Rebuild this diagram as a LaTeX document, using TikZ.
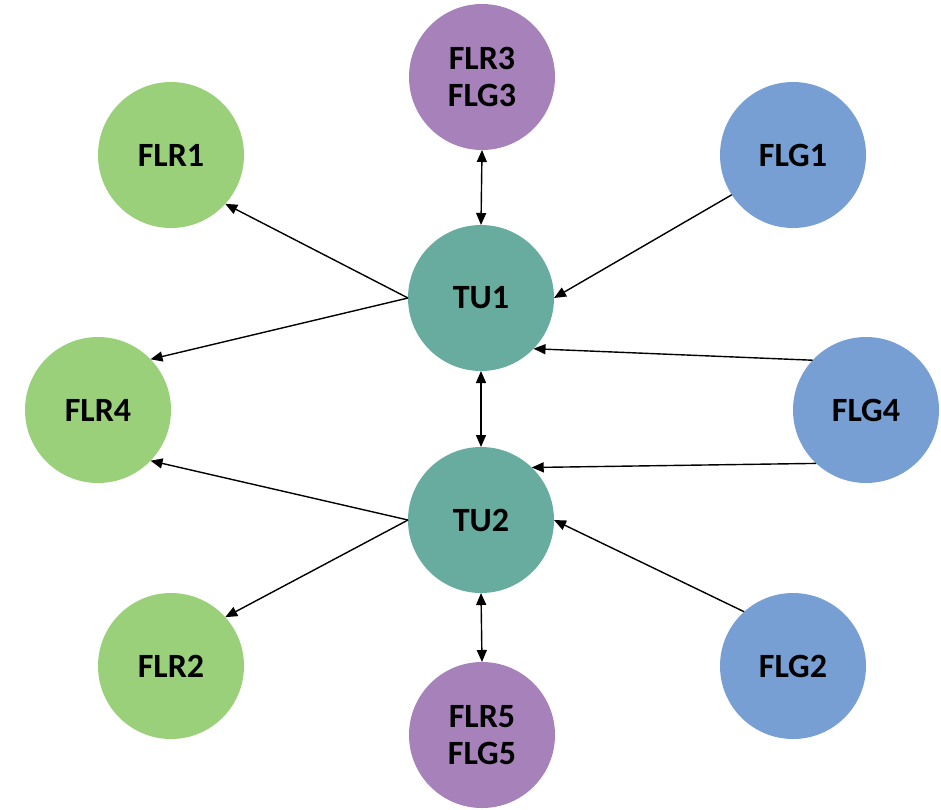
\documentclass[tikz,border=0pt]{standalone}
\usepackage{fontspec}
\setmainfont{Carlito}
\usetikzlibrary{arrows.meta}
\definecolor{cgreen}{HTML}{9BD07B}
\definecolor{cteal}{HTML}{67AC9F}
\definecolor{cpurple}{HTML}{A681BA}
\definecolor{cblue}{HTML}{779FD3}
\tikzset{
  bub/.style={circle, minimum size=146pt, inner sep=0pt, outer sep=0pt, draw=none,
    font=\fontsize{34}{37}\selectfont\bfseries, text=black, align=center},
  con/.style={line width=1.4pt, -{Triangle[length=12pt,width=10pt]}},
  bicon/.style={line width=1.4pt, {Triangle[length=12pt,width=10pt]}-{Triangle[length=12pt,width=10pt]}}
}
\begin{document}
\begin{tikzpicture}[x=1pt,y=-1pt]
\useasboundingbox (0,0) rectangle (941,809);
\node[bub, fill=cpurple] (f3) at (482,77) {FLR3\\FLG3};
\node[bub, fill=cgreen] (r1) at (171,155) {FLR1};
\node[bub, fill=cblue] (g1) at (793,155) {FLG1};
\node[bub, fill=cteal] (tu1) at (481,298) {TU1};
\node[bub, fill=cgreen] (r4) at (98,410) {FLR4};
\node[bub, fill=cblue] (g4) at (866,410) {FLG4};
\node[bub, fill=cteal] (tu2) at (481,520) {TU2};
\node[bub, fill=cgreen] (r2) at (171,666) {FLR2};
\node[bub, fill=cblue] (g2) at (793,666) {FLG2};
\node[bub, fill=cpurple] (f5) at (482,735) {FLR5\\FLG5};

\draw[bicon] (f3.south) -- (tu1.north);
\draw[bicon] (tu1.south) -- (tu2.north);
\draw[bicon] (tu2.south) -- (f5.north);
\draw[con] (tu1.west) -- (r1.-42);
\draw[con] (tu1.west) -- (r4.44);
\draw[con] (tu2.west) -- (r4.-44);
\draw[con] (tu2.west) -- (r2.42);
\draw[con] (g1.213) -- (tu1.east);
\draw[con] (g4.137) -- (tu1.-44);
\draw[con] (g4.227) -- (tu2.46);
\draw[con] (g2.132) -- (tu2.east);
\end{tikzpicture}
\end{document}
